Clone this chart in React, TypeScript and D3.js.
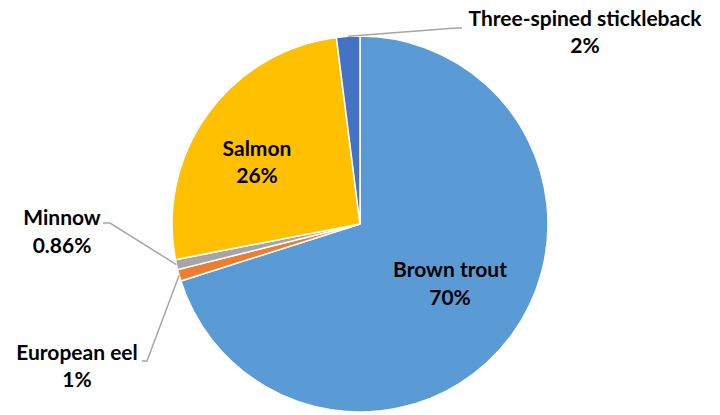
import React from "react";
import * as d3 from "d3";

const categories = ["Brown trout", "European eel", "Minnow", "Salmon", "Three-spined stickleback"];
const values = [70, 1, 0.86, 26, 2];
const valueLabels = ["70%", "1%", "0.86%", "26%", "2%"];
const colors = ["#5B9BD5", "#ED7D31", "#A5A5A5", "#FFC000", "#4472C4"];

const W = 720, H = 415;
const cx = 360, cy = 224, R = 188;
const FONT = "Lato, 'Open Sans', sans-serif";

export default function App() {
  const pie = d3.pie<number>().sort(null).value((d) => d)(values);
  const arc = d3.arc<d3.PieArcDatum<number>>().innerRadius(0).outerRadius(R);
  const pt = (a: number, r: number): [number, number] => [Math.sin(a) * r, -Math.cos(a) * r];
  const mid = (i: number) => (pie[i].startAngle + pie[i].endAngle) / 2;

  // label placement: [center x, first-line baseline, second-line baseline]
  const labelPos: [number, number, number][] = [
    [450, 277, 305],
    [77, 360, 387],
    [62, 225, 253],
    [257, 156, 183],
    [585, 26, 53],
  ];
  const leaders: Record<number, [number, number][]> = {
    1: [pt(mid(1), R), [147, 361], [142, 361]],
    2: [pt(mid(2), R), [110, 223], [103, 223]],
    4: [pt(mid(4), R), [456, 28], [462, 28]],
  };

  return (
    <svg width={W} height={H} style={{ position: "absolute", left: 0, top: 0 }}>
      <g transform={`translate(${cx},${cy})`}>
        {pie.map((p, i) => (
          <path key={i} d={arc(p) || ""} fill={colors[i]} stroke="#fff" strokeWidth={1.5} />
        ))}
      </g>
      {Object.entries(leaders).map(([k, pts]) => (
        <polyline
          key={k}
          points={pts
            .map((p, j) => (j === 0 ? [p[0] + cx, p[1] + cy] : p).join(","))
            .join(" ")}
          fill="none"
          stroke="#A6A6A6"
          strokeWidth={1.5}
        />
      ))}
      {categories.map((c, i) => (
        <text
          key={c}
          textAnchor="middle"
          fontFamily={FONT}
          fontWeight="bold"
          fontSize={21}
          fill="#000"
        >
          <tspan x={labelPos[i][0]} y={labelPos[i][1]}>{c}</tspan>
          <tspan x={labelPos[i][0]} y={labelPos[i][2]}>{valueLabels[i]}</tspan>
        </text>
      ))}
    </svg>
  );
}
